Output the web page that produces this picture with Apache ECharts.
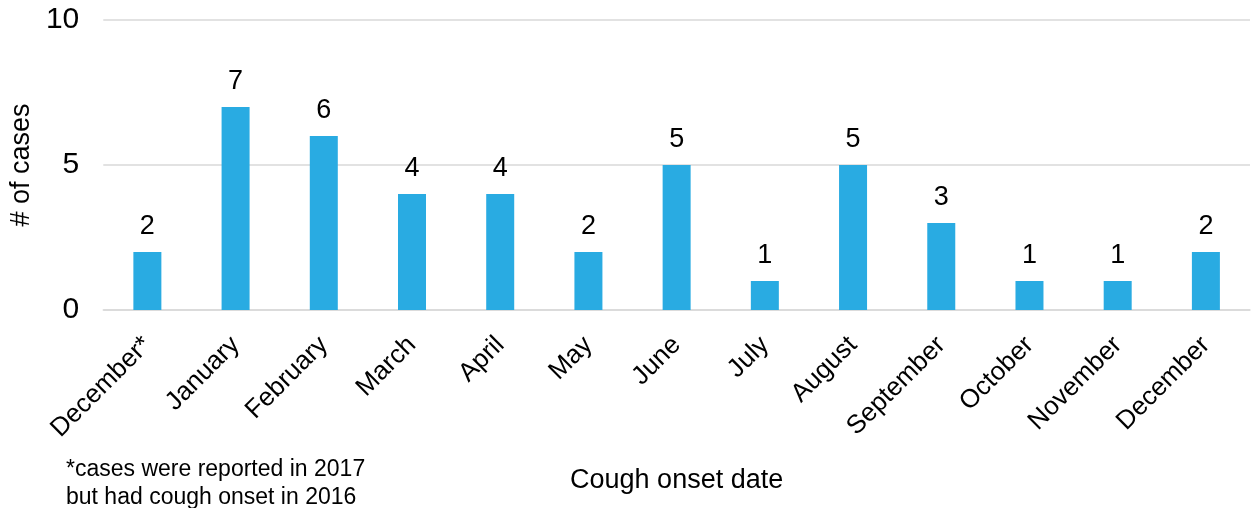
<!DOCTYPE html>
<html><head><meta charset="utf-8">
<script src="https://cdn.jsdelivr.net/npm/echarts@6/dist/echarts.min.js"></script>
<style>html,body{margin:0;padding:0;background:#fff}#c{width:1251px;height:508px}</style>
</head><body><div id="c"></div>
<script>
const categories = ['December*','January','February','March','April','May','June','July','August','September','October','November','December'];
const cases = [2,7,6,4,4,2,5,1,5,3,1,1,2];
const yTicks = [0,5,10];
const chart = echarts.init(document.getElementById('c'));
chart.setOption({
  animation:false,
  grid:{left:99,right:1,top:20,bottom:198,containLabel:false},
  xAxis:{type:'category',data:categories,
    axisLine:{lineStyle:{color:'#d9d9d9',width:1.5}},axisTick:{show:false},
    axisLabel:{rotate:45,color:'#000',fontSize:26,fontFamily:'Liberation Sans',margin:31,interval:0},
    name:'Cough onset date',nameLocation:'middle',nameGap:157,
    nameTextStyle:{color:'#000',fontSize:27,fontFamily:'Liberation Sans'}},
  yAxis:{type:'value',min:yTicks[0],max:yTicks[yTicks.length-1],interval:5,
    axisLine:{show:false},axisTick:{show:false},
    splitLine:{lineStyle:{color:'#d9d9d9',width:1.5}},
    axisLabel:{color:'#000',fontSize:30,fontFamily:'Liberation Sans',margin:24},
    name:'# of cases',nameLocation:'middle',nameGap:60,
    nameTextStyle:{color:'#000',fontSize:27,fontFamily:'Liberation Sans'}},
  series:[{type:'bar',data:cases,barWidth:28,
    itemStyle:{color:'#29ABE2'},
    label:{show:true,position:'top',distance:12,color:'#000',fontSize:27,fontFamily:'Liberation Sans'}}],
  graphic:[{type:'text',left:66,top:456,style:{text:'*cases were reported in 2017\nbut had cough onset in 2016',fill:'#000',fontSize:23,lineHeight:28,fontFamily:'Liberation Sans'}}]
});
</script></body></html>
